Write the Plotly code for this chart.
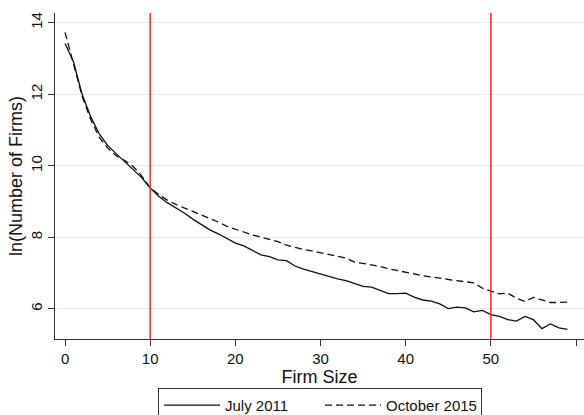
import plotly.graph_objects as go

# ---- data ----
firm_size = list(range(60))
july_2011 = [13.42, 12.90, 12.00, 11.38, 10.90, 10.57, 10.34, 10.12, 9.91, 9.67,
             9.38, 9.15, 8.97, 8.83, 8.68, 8.51, 8.37, 8.21, 8.10, 7.97,
             7.84, 7.76, 7.64, 7.51, 7.46, 7.37, 7.35, 7.20, 7.11, 7.04,
             6.97, 6.90, 6.84, 6.79, 6.70, 6.63, 6.61, 6.52, 6.43, 6.43,
             6.44, 6.33, 6.25, 6.22, 6.14, 6.01, 6.05, 6.03, 5.92, 5.96,
             5.84, 5.79, 5.70, 5.66, 5.79, 5.70, 5.45, 5.58, 5.47, 5.43]
october_2015 = [13.73, 12.85, 11.95, 11.30, 10.80, 10.50, 10.28, 10.15, 9.98, 9.72,
                9.38, 9.20, 9.04, 8.92, 8.82, 8.73, 8.63, 8.54, 8.43, 8.31,
                8.22, 8.15, 8.07, 8.00, 7.94, 7.88, 7.78, 7.71, 7.66, 7.62,
                7.57, 7.53, 7.47, 7.42, 7.31, 7.27, 7.22, 7.19, 7.12, 7.08,
                7.02, 6.98, 6.93, 6.89, 6.85, 6.82, 6.79, 6.76, 6.73, 6.58,
                6.49, 6.42, 6.44, 6.30, 6.21, 6.32, 6.25, 6.18, 6.18, 6.19]
cutoffs = [10, 50]
x_ticks = [0, 10, 20, 30, 40, 50, 60]
y_ticks = [6, 8, 10, 12, 14]
series_names = ["July 2011", "October 2015"]
x_title = "Firm Size"
y_title = "ln(Number of Firms)"

FONT = "Liberation Sans, Arial, Helvetica, sans-serif"
AXIS_COLOR = "#333333"

fig = go.Figure()
fig.add_trace(go.Scatter(x=firm_size, y=july_2011, mode="lines", name=series_names[0],
                         line=dict(color="#111111", width=1.3)))
fig.add_trace(go.Scatter(x=firm_size, y=october_2015, mode="lines", name=series_names[1],
                         line=dict(color="#111111", width=1.3, dash="7px,4px")))

for c in cutoffs:
    fig.add_shape(type="line", xref="x", yref="paper", x0=c, x1=c, y0=0, y1=1,
                  line=dict(color="#ff3030", width=1.6), layer="above")

fig.update_layout(
    width=584, height=415,
    margin=dict(l=55, r=0, t=13, b=76, autoexpand=False),
    paper_bgcolor="white", plot_bgcolor="white",
    font=dict(family=FONT, size=15, color="#111111"),
    showlegend=True,
    legend=dict(orientation="h", x=0.501, xanchor="center", y=-0.15, yanchor="top",
                bordercolor="#333333", borderwidth=1, bgcolor="white",
                font=dict(size=15), itemwidth=56,
                entrywidth=90, entrywidthmode="pixels"),
)
fig.update_xaxes(range=[-1.18, 60.94], tickmode="array", tickvals=x_ticks,
                 ticks="outside", ticklen=6, tickcolor=AXIS_COLOR, tickwidth=1,
                 showline=True, linecolor=AXIS_COLOR, linewidth=1,
                 showgrid=False, zeroline=False, automargin=False,
                 title=dict(text=x_title, standoff=0))
fig.update_yaxes(range=[5.16, 14.27], tickmode="array", tickvals=y_ticks,
                 ticks="outside", ticklen=6, tickcolor=AXIS_COLOR, tickwidth=1,
                 tickangle=-90, automargin=False,
                 showline=True, linecolor=AXIS_COLOR, linewidth=1,
                 showgrid=True, gridcolor="#e6eff0", gridwidth=1, zeroline=False,
                 title=dict(text=y_title, standoff=0))

fig.write_html("out.html", config={"displayModeBar": False},
               post_script="document.body.style.margin='0';document.body.style.padding='0';")
